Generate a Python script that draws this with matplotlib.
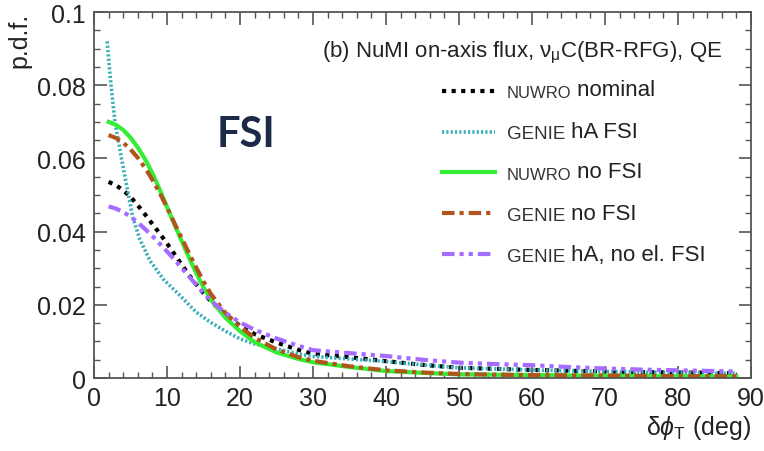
import matplotlib
matplotlib.use("Agg")
import matplotlib.pyplot as plt
from matplotlib.ticker import MultipleLocator

plt.rcParams['font.family'] = ['Liberation Sans', 'DejaVu Sans']
plt.rcParams['mathtext.fontset'] = 'custom'
plt.rcParams['mathtext.rm'] = 'Liberation Sans'
plt.rcParams['mathtext.it'] = 'Liberation Sans:italic'

# delta phi_T (deg)
x = [2, 3, 4, 5, 6, 7, 8, 9, 10, 11, 12, 13, 14, 15, 16, 18, 20, 22, 25, 28,
     30, 35, 40, 45, 50, 55, 60, 65, 70, 75, 80, 85, 88]

nuwro_nominal = [0.0536, 0.0527, 0.0513, 0.0495, 0.0472, 0.0447, 0.0421, 0.0395,
                 0.0368, 0.0339, 0.0310, 0.0282, 0.0256, 0.0232, 0.0210, 0.0173,
                 0.0143, 0.0120, 0.0097, 0.0077, 0.0066, 0.0057, 0.0046, 0.0036,
                 0.0028, 0.0025, 0.0022, 0.0020, 0.0018, 0.0016, 0.0015, 0.0014,
                 0.0013]
nuwro_nofsi = [0.0700, 0.0692, 0.0678, 0.0657, 0.0630, 0.0598, 0.0560, 0.0515,
               0.0468, 0.0421, 0.0375, 0.0330, 0.0287, 0.0248, 0.0214, 0.0165,
               0.0128, 0.0098, 0.0070, 0.0052, 0.0043, 0.0030, 0.0019, 0.0014,
               0.0010, 0.0009, 0.0008, 0.0007, 0.0006, 0.0005, 0.0005, 0.0004,
               0.0004]
genie_nofsi = [0.0664, 0.0656, 0.0643, 0.0625, 0.0602, 0.0574, 0.0542, 0.0506,
               0.0466, 0.0424, 0.0383, 0.0342, 0.0302, 0.0264, 0.0230, 0.0178,
               0.0140, 0.0110, 0.0078, 0.0057, 0.0047, 0.0032, 0.0021, 0.0015,
               0.0011, 0.0009, 0.0008, 0.0007, 0.0007, 0.0006, 0.0005, 0.0005,
               0.0005]
genie_ha_noel = [0.0469, 0.0463, 0.0454, 0.0441, 0.0425, 0.0407, 0.0388, 0.0367,
                 0.0346, 0.0324, 0.0301, 0.0278, 0.0255, 0.0233, 0.0212, 0.0178,
                 0.0152, 0.0132, 0.0108, 0.0088, 0.0076, 0.0068, 0.0060, 0.0050,
                 0.0042, 0.0038, 0.0035, 0.0030, 0.0026, 0.0023, 0.0021, 0.0019,
                 0.0018]

x_ha = [1.8, 2.3, 2.9, 3.9, 4.7, 5.3, 6.3, 7.7, 9.5, 11.8, 14, 16, 18, 20, 22,
        25, 28, 30, 35, 40, 45, 50, 55, 60, 65, 70, 75, 80, 85, 88]
genie_ha = [0.0920, 0.0806, 0.0696, 0.0586, 0.0503, 0.0440, 0.0378, 0.0320,
            0.0270, 0.0225, 0.0180, 0.0152, 0.0128, 0.0107, 0.0093, 0.0080,
            0.0066, 0.0059, 0.0052, 0.0045, 0.0036, 0.0028, 0.0025, 0.0022,
            0.0020, 0.0018, 0.0016, 0.0015, 0.0013, 0.0013]

fig = plt.figure(figsize=(7.64, 4.52), dpi=100)
ax = fig.add_axes([0.123, 0.1615, 0.860, 0.8095])

# (x, y, colour, linestyle, width, small-caps generator, rest of label)
series = [
    (x, nuwro_nominal, 'black', (0, (1, 1.3)), 3.0, 'NUWRO', ' nominal'),
    (x_ha, genie_ha, '#3aaeb8', (0, (0.6, 0.6)), 2.6, 'GENIE', ' hA FSI'),
    (x, nuwro_nofsi, '#33ee33', '-', 3.0, 'NUWRO', ' no FSI'),
    (x, genie_nofsi, '#b0561c', (0, (3, 1.2, 1, 1.2)), 3.0, 'GENIE', ' no FSI'),
    (x, genie_ha_noel, '#a66cff', (0, (3, 1.2, 1, 1.2, 1, 1.2)), 3.0, 'GENIE', ' hA, no el. FSI'),
]

for xs, ys, c, ls, lw, gen, rest in series:
    ax.plot(xs, ys, color=c, linestyle=ls, linewidth=lw)

ax.set_xlim(0, 90)
ax.set_ylim(0, 0.1)
ax.xaxis.set_major_locator(MultipleLocator(10))
ax.xaxis.set_minor_locator(MultipleLocator(2))
ax.yaxis.set_minor_locator(MultipleLocator(0.005))
ax.set_yticks([0, 0.02, 0.04, 0.06, 0.08, 0.1])
ax.set_yticklabels(['0', '0.02', '0.04', '0.06', '0.08', '0.1'])
ax.tick_params(which='both', direction='in', top=True, right=True,
               labelsize=18, colors='#555555', labelcolor='#222222', pad=6)
ax.tick_params(which='major', length=9, width=1.2)
ax.tick_params(which='minor', length=4.5, width=1.0)
for s in ax.spines.values():
    s.set_color('#555555')
    s.set_linewidth(1.3)

ax.set_ylabel('p.d.f.', fontsize=18, loc='top', color='#222222', labelpad=4)
ax.set_xlabel(r'δ$\phi_{\mathrm{T}}$ (deg)', fontsize=18, loc='right',
              color='#222222', labelpad=2)

ax.text(0.956, 0.892, r'(b) NuMI on-axis flux, ν$_{\mathrm{\mu}}$C(BR-RFG), QE',
        transform=ax.transAxes, ha='right', va='center', fontsize=16,
        color='#222222')

# legend drawn by hand, to mix small caps and normal text
y0 = 0.785
dy = 0.1115
for i, (xs, ys, c, ls, lw, gen, rest) in enumerate(series):
    yy = y0 - i * dy
    ax.plot([0.529, 0.61], [yy, yy], transform=ax.transAxes, color=c,
            linestyle=ls, linewidth=lw, clip_on=False)
    t1 = ax.text(0.628, yy - 0.018, gen, transform=ax.transAxes, ha='left',
                 va='baseline', fontsize=12 if gen == 'NUWRO' else 13.5,
                 color='#333333')
    ax.annotate(rest, xy=(1, 0), xycoords=t1, va='bottom', ha='left',
                fontsize=16, color='#222222')

ax.text(0.187, 0.667, 'FSI', transform=ax.transAxes, fontsize=30,
        fontweight='bold', family='Lato', color='#1b2a47', va='center')

fig.savefig('out.png', dpi=100)
